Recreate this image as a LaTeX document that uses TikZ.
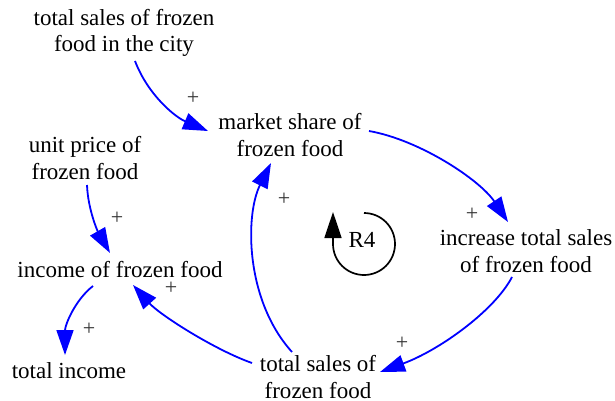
\documentclass[tikz,border=0pt]{standalone}
\usepackage{fontspec}
\setmainfont{Liberation Serif}
\usetikzlibrary{arrows.meta}
\begin{document}
\begin{tikzpicture}[x=1pt,y=-1pt,
  var/.style={align=center,inner sep=0pt,font=\fontsize{23}{26.5}\selectfont},
  link/.style={draw=blue,line width=1.8pt,-{Triangle[length=25pt,width=17pt]}},
  pol/.style={font=\fontsize{22}{22}\selectfont,text=black!80,inner sep=0pt},
  loopline/.style={draw=black,line width=1.7pt,-{Triangle[length=26pt,width=17pt]}}]
\useasboundingbox (0,0) rectangle (615,401);
\node[var] (city) at (124,33) {total sales of frozen\\food in the city};
\node[var] (ms) at (290,135) {market share of\\frozen food};
\node[var] (unit) at (85,158) {unit price of\\frozen food};
\node[var] (income) at (120,270) {income of frozen food};
\node[var] (totinc) at (69,371) {total income};
\node[var] (tsf) at (318,377) {total sales of\\frozen food};
\node[var] (inc) at (526,251) {increase total sales\\of frozen food};
\node[var] (r4) at (362,240) {R4};
% links
\draw[link] ([shift={(11,28)}]city.center) .. controls (148,95) and (175,117) .. ([shift={(-82,-4)}]ms.center);
\draw[link] ([shift={(79,-4)}]ms.center) .. controls (420,140) and (480,180) .. ([shift={(-18,-29)}]inc.center);
\draw[link] ([shift={(-14,26)}]inc.center) .. controls (495,310) and (440,350) .. ([shift={(62,-5)}]tsf.center);
\draw[link] ([shift={(-26,-25)}]tsf.center) .. controls (245,300) and (245,215) .. ([shift={(-19,28)}]ms.center);
\draw[link] ([shift={(-66,-14)}]tsf.center) .. controls (215,350) and (160,315) .. ([shift={(13,15)}]income.center);
\draw[link] ([shift={(2,27)}]unit.center) .. controls (88,210) and (98,232) .. ([shift={(-10,-17)}]income.center);
\draw[link] ([shift={(-27,16)}]income.center) .. controls (75,300) and (65,325) .. ([shift={(-4,-16)}]totinc.center);
% polarities
\node[pol] (p1) at (193,98) {+};
\node[pol] (p2) at (472,214) {+};
\node[pol] (p3) at (402,343) {+};
\node[pol] (p4) at (284,199) {+};
\node[pol] (p5) at (171,288) {+};
\node[pol] (p6) at (117,218) {+};
\node[pol] (p7) at (89,329) {+};
% loop
\draw[loopline] ([shift={(2,-27)}]r4.center) arc[start angle=-90,end angle=180,radius=31] -- ++(0,-32);
\end{tikzpicture}
\end{document}
